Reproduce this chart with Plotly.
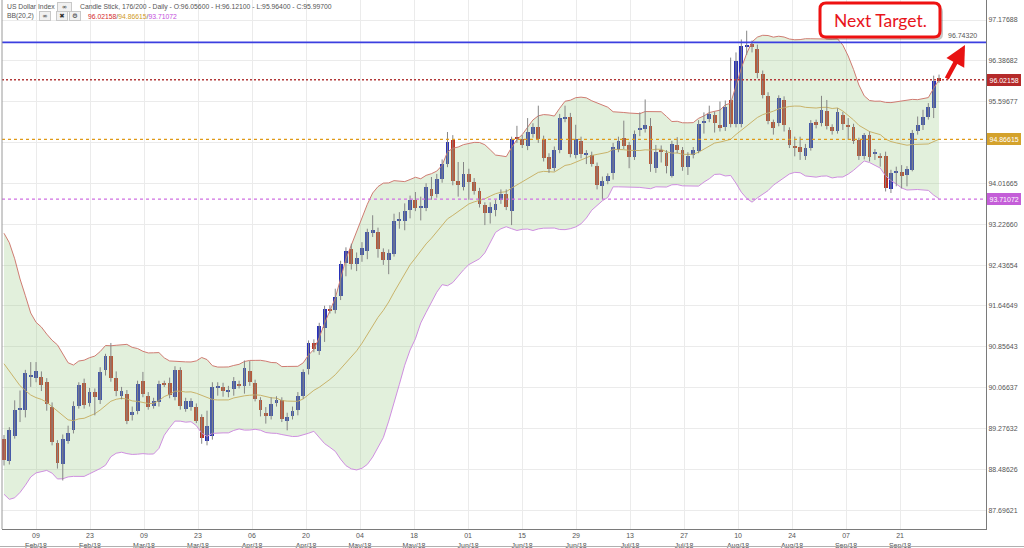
import plotly.graph_objects as go
import pandas as pd

# ---------------- data ----------------
# closes before the first visible candle, only used to warm up the 20-bar Bollinger window
jan_closes = [92.05, 92.45, 92.55, 92.20, 92.05, 91.38, 90.80, 90.86, 90.72, 90.62,
              90.70, 90.63, 90.05, 89.40, 89.52, 89.00, 89.10, 88.95, 88.85]

opens = [89.07, 88.65, 89.14, 89.64, 89.64, 90.28, 90.25, 90.27, 90.17, 89.69,
         88.99, 88.58, 89.04, 89.24, 89.72, 90.16, 89.77, 89.98, 89.82, 90.41,
         90.67, 90.25, 89.91, 89.95, 89.53, 89.62, 90.20, 89.91, 89.72, 89.78,
         90.15, 90.15, 89.88, 90.41, 89.66, 89.69, 89.69, 89.49, 89.03, 89.14,
         90.06, 90.08, 90.00, 90.04, 90.13, 90.09, 90.39, 90.16, 89.83, 89.57,
         89.51, 89.77, 89.82, 89.42, 89.51, 89.64, 89.91, 90.42, 90.93, 90.77,
         91.22, 91.58, 91.57, 91.83, 92.48, 92.74, 92.45, 92.64, 92.71, 93.06,
         93.08, 92.69, 92.53, 92.66, 93.29, 93.29, 93.50, 93.70, 93.55, 93.55,
         93.90, 93.82, 94.10, 94.40, 94.85, 94.07, 93.95, 94.19, 94.05, 93.87,
         93.59, 93.45, 93.50, 93.70, 93.82, 93.49, 94.91, 94.87, 94.74, 94.97,
         95.10, 94.87, 94.53, 94.31, 94.67, 95.27, 95.30, 94.56, 94.84, 94.57,
         94.57, 94.36, 93.97, 94.07, 94.22, 94.69, 94.89, 94.76, 94.53, 95.05,
         95.07, 95.13, 94.31, 94.66, 94.60, 94.16, 94.76, 94.66, 94.34, 94.56,
         94.65, 95.18, 95.26, 95.34, 95.15, 95.10, 95.63, 95.17, 95.17, 96.67,
         96.72, 96.61, 96.14, 95.71, 95.20, 95.18, 95.63, 95.04, 94.74, 94.72,
         94.55, 94.71, 95.20, 95.18, 95.41, 95.10, 95.03, 95.34, 95.15, 95.10,
         94.85, 94.55, 94.96, 94.60, 94.54, 94.54, 93.90, 94.23, 94.23, 94.18,
         94.28, 95.03, 95.14, 95.30, 95.47, 96.056]

highs = [89.15, 89.30, 89.82, 90.01, 90.41, 90.56, 90.56, 90.38, 90.25, 89.78,
         89.05, 89.16, 89.33, 89.80, 90.17, 90.24, 90.06, 90.05, 90.46, 90.72,
         90.93, 90.38, 90.08, 90.02, 89.70, 90.20, 90.37, 89.98, 89.87, 90.20,
         90.20, 90.26, 90.48, 90.46, 89.87, 89.86, 89.76, 89.55, 89.62, 90.17,
         90.17, 90.16, 90.10, 90.27, 90.20, 90.59, 90.58, 90.22, 89.88, 89.69,
         89.88, 89.90, 89.88, 89.58, 89.70, 89.98, 90.42, 90.98, 91.00, 91.32,
         91.65, 91.66, 91.98, 92.52, 92.78, 92.85, 92.68, 92.88, 93.14, 93.40,
         93.16, 92.76, 92.74, 93.43, 93.46, 93.63, 93.78, 93.85, 93.76, 94.02,
         94.14, 94.20, 94.48, 95.01, 94.95, 94.43, 94.43, 94.30, 94.12, 93.93,
         93.65, 93.65, 93.70, 93.90, 93.90, 94.92, 95.13, 94.95, 95.28, 95.18,
         95.52, 94.94, 94.60, 94.73, 95.36, 95.52, 95.38, 95.15, 94.92, 94.66,
         94.63, 94.42, 94.15, 94.21, 94.80, 94.92, 95.23, 94.82, 95.04, 95.39,
         95.64, 95.28, 94.76, 94.75, 94.66, 94.84, 94.91, 94.72, 94.62, 94.72,
         95.24, 95.39, 95.52, 95.40, 95.60, 95.62, 96.45, 96.55, 96.80, 96.97,
         96.78, 96.70, 96.20, 95.78, 95.25, 95.72, 95.70, 95.10, 94.92, 94.92,
         94.78, 95.24, 95.25, 95.71, 95.63, 95.16, 95.47, 95.40, 95.28, 95.17,
         94.90, 94.99, 95.02, 94.68, 94.60, 94.63, 94.28, 94.34, 94.37, 94.35,
         95.05, 95.31, 95.44, 95.57, 96.10, 96.121]

lows = [88.56, 88.58, 89.08, 89.40, 89.49, 90.08, 90.17, 90.00, 89.62, 88.95,
        88.50, 88.27, 88.98, 89.18, 89.66, 89.66, 89.70, 89.53, 89.75, 90.30,
        90.18, 89.90, 89.84, 89.36, 89.43, 89.55, 89.88, 89.64, 89.66, 89.70,
        90.08, 89.86, 89.82, 89.64, 89.60, 89.62, 89.38, 88.98, 88.95, 89.06,
        89.91, 89.89, 89.88, 89.91, 90.05, 89.95, 90.10, 89.80, 89.51, 89.37,
        89.45, 89.70, 89.40, 89.24, 89.45, 89.53, 89.85, 90.32, 90.75, 90.70,
        90.95, 91.50, 91.50, 91.76, 92.22, 92.35, 92.32, 92.50, 92.55, 92.98,
        92.58, 92.44, 92.26, 92.60, 93.14, 93.11, 93.34, 93.48, 93.30, 93.48,
        93.70, 93.74, 94.03, 94.33, 93.98, 93.76, 93.88, 93.70, 93.80, 93.55,
        93.21, 93.24, 93.38, 93.62, 93.50, 93.21, 94.80, 94.70, 94.66, 94.90,
        94.80, 94.44, 94.22, 94.25, 94.60, 95.20, 94.52, 94.50, 94.50, 94.39,
        94.34, 93.90, 93.71, 94.00, 94.09, 94.62, 94.68, 94.31, 94.47, 94.93,
        95.00, 94.24, 94.22, 94.42, 94.21, 94.13, 94.60, 94.26, 94.18, 94.50,
        94.60, 94.98, 95.20, 95.00, 95.02, 95.03, 95.10, 95.10, 95.10, 96.50,
        96.55, 96.05, 95.66, 95.16, 94.96, 95.12, 95.02, 94.70, 94.54, 94.47,
        94.47, 94.65, 95.08, 95.12, 95.06, 94.96, 94.98, 95.05, 94.86, 94.78,
        94.47, 94.48, 94.44, 94.47, 94.34, 93.86, 93.83, 93.96, 93.92, 93.96,
        94.25, 94.96, 95.05, 95.25, 95.28, 95.964]

closes = [88.67, 89.24, 89.64, 89.68, 90.35, 90.30, 90.38, 90.11, 89.75, 89.01,
          88.60, 89.07, 89.19, 89.72, 90.12, 89.73, 89.98, 89.88, 90.37, 90.67,
          90.26, 90.01, 90.00, 89.43, 89.60, 90.13, 89.95, 89.70, 89.80, 90.13,
          90.13, 89.93, 90.41, 89.71, 89.80, 89.80, 89.43, 89.09, 89.33, 90.08,
          90.09, 90.01, 90.02, 90.19, 90.11, 90.45, 90.17, 89.85, 89.64, 89.52,
          89.75, 89.83, 89.45, 89.50, 89.61, 89.90, 90.37, 90.93, 90.81, 91.26,
          91.58, 91.56, 91.82, 92.45, 92.71, 92.45, 92.58, 92.77, 93.08, 93.12,
          92.74, 92.53, 92.67, 93.28, 93.32, 93.48, 93.70, 93.55, 93.58, 93.95,
          93.77, 94.11, 94.40, 94.81, 94.07, 93.98, 94.19, 94.05, 93.87, 93.61,
          93.45, 93.56, 93.61, 93.82, 93.56, 94.87, 94.87, 94.76, 95.02, 95.11,
          94.87, 94.50, 94.29, 94.66, 95.29, 95.31, 94.58, 94.87, 94.58, 94.60,
          94.39, 93.99, 94.07, 94.16, 94.73, 94.84, 94.74, 94.52, 94.97, 95.08,
          95.15, 94.39, 94.63, 94.62, 94.35, 94.77, 94.66, 94.34, 94.55, 94.66,
          95.17, 95.23, 95.36, 95.18, 95.08, 95.50, 95.17, 96.38, 96.67, 96.70,
          96.65, 96.15, 95.73, 95.23, 95.09, 95.67, 95.15, 94.76, 94.72, 94.62,
          94.71, 95.18, 95.14, 95.43, 95.12, 95.03, 95.39, 95.17, 95.12, 94.83,
          94.55, 94.96, 94.52, 94.61, 94.52, 93.92, 94.21, 94.25, 94.15, 94.29,
          94.99, 95.14, 95.31, 95.50, 95.99, 95.997]

date_labels = ["09<br>Feb/18", "23<br>Feb/18", "09<br>Mar/18", "23<br>Mar/18",
               "06<br>Apr/18", "20<br>Apr/18", "04<br>May/18", "18<br>May/18",
               "01<br>Jun/18", "15<br>Jun/18", "29<br>Jun/18", "13<br>Jul/18",
               "27<br>Jul/18", "10<br>Aug/18", "24<br>Aug/18", "07<br>Sep/18",
               "21<br>Sep/18"]

price_ticks = [87.69621, 88.48626, 89.27632, 90.06637, 90.85643, 91.64649, 92.43654,
               93.22660, 94.01665, 94.80671, 95.59677, 96.38682, 97.17688]

bb_last = [96.02158, 94.86615, 93.71072]   # upper / middle / lower of the last bar
target_level = 96.74320
ohlc_last = [96.05600, 96.12100, 95.96400, 95.99700]

# ---------------- geometry ----------------
W, H = 1024, 548
ML, MR, MT, MB = 2, 38, 0, 19
PW, PH = W - ML - MR, H - MT - MB
X0PX, DXPX = 4.0, 5.343          # pixel of first candle, pixels per candle
YREF_V, YREF_PX, PXU = 97.17688, 20.0, 51.7


def px_x(px):
    return (px - ML) / PW


def px_y(py):
    return (H - MB - py) / PH


x_range = [(ML - X0PX) / DXPX, (ML + PW - X0PX) / DXPX]
y_range = [YREF_V - (PH - YREF_PX) / PXU, YREF_V + YREF_PX / PXU]

n = len(closes)
idx = list(range(n))

# Bollinger bands (20, 2)
ser = pd.Series(jan_closes + closes)
mid = ser.rolling(20).mean().iloc[-n:].tolist()
sd = ser.rolling(20).std(ddof=0).iloc[-n:].tolist()
upper = [m + 2 * s for m, s in zip(mid, sd)]
lower = [m - 2 * s for m, s in zip(mid, sd)]

BLUE, RED = "#2830b8", "#c2301f"

fig = go.Figure()

fig.add_trace(go.Scatter(x=idx, y=lower, mode="lines",
                         line=dict(color="#cf8fe0", width=1), hoverinfo="skip"))
fig.add_trace(go.Scatter(x=idx, y=upper, mode="lines", fill="tonexty",
                         fillcolor="rgba(150,200,130,0.28)",
                         line=dict(color="#cf7c72", width=1), hoverinfo="skip"))
fig.add_trace(go.Scatter(x=idx, y=mid, mode="lines",
                         line=dict(color="#c9b36a", width=1), hoverinfo="skip"))

# wicks
wx, wy = [], []
for i in idx:
    wx += [i, i, None]
    wy += [lows[i], highs[i], None]
fig.add_trace(go.Scatter(x=wx, y=wy, mode="lines",
                         line=dict(color="#858585", width=1), hoverinfo="skip"))

# bodies
base = [min(o, c) for o, c in zip(opens, closes)]
hgt = [max(abs(c - o), 0.022) for o, c in zip(opens, closes)]
cols = [BLUE if c >= o else RED for o, c in zip(opens, closes)]
fig.add_trace(go.Bar(x=idx, y=hgt, base=base, width=0.72,
                     marker=dict(color=cols, line=dict(width=0)), hoverinfo="skip"))

shapes = []
# level lines
shapes.append(dict(type="line", xref="paper", x0=0, x1=1, yref="y",
                   y0=target_level, y1=target_level,
                   line=dict(color="#3b3fe0", width=1.6), layer="above"))
shapes.append(dict(type="line", xref="paper", x0=0, x1=1, yref="y",
                   y0=bb_last[0], y1=bb_last[0],
                   line=dict(color="#b33a3a", width=1.6, dash="2px,2px"), layer="above"))
shapes.append(dict(type="line", xref="paper", x0=0, x1=1, yref="y",
                   y0=bb_last[1], y1=bb_last[1],
                   line=dict(color="#e09a18", width=1.2, dash="3px,3px"), layer="above"))
shapes.append(dict(type="line", xref="paper", x0=0, x1=1, yref="y",
                   y0=bb_last[2], y1=bb_last[2],
                   line=dict(color="#d070e2", width=1.2, dash="3px,3px"), layer="above"))


def rounded(x0, y0, x1, y1, r):
    X = px_x
    Y = px_y
    return (f"M {X(x0 + r)},{Y(y0)} L {X(x1 - r)},{Y(y0)} Q {X(x1)},{Y(y0)} {X(x1)},{Y(y0 + r)} "
            f"L {X(x1)},{Y(y1 - r)} Q {X(x1)},{Y(y1)} {X(x1 - r)},{Y(y1)} "
            f"L {X(x0 + r)},{Y(y1)} Q {X(x0)},{Y(y1)} {X(x0)},{Y(y1 - r)} "
            f"L {X(x0)},{Y(y0 + r)} Q {X(x0)},{Y(y0)} {X(x0 + r)},{Y(y0)} Z")


# "Next Target." callout box (shadow + box)
shapes.append(dict(type="path", xref="paper", yref="paper", path=rounded(823, 6, 943, 40, 6),
                   fillcolor="rgba(0,0,0,0.22)", line=dict(width=0), layer="above"))
shapes.append(dict(type="path", xref="paper", yref="paper", path=rounded(820, 3, 940, 37, 6),
                   fillcolor="white", line=dict(color="#ee1111", width=3), layer="above"))

# left plot border and bottom frame line
shapes.append(dict(type="line", xref="paper", yref="paper", x0=0, x1=0, y0=0, y1=1,
                   line=dict(color="#9a9a9a", width=1)))
shapes.append(dict(type="line", xref="paper", yref="paper", x0=px_x(0), x1=px_x(1024),
                   y0=px_y(546.5), y1=px_y(546.5), line=dict(color="#b0b0b0", width=1)))

SMALL = "Liberation Sans, Arial, sans-serif"
ann = []
ann.append(dict(xref="paper", yref="paper", x=px_x(880), y=px_y(20.5), text="Next Target.",
                xanchor="center", yanchor="middle", showarrow=False,
                font=dict(family="Lato, Open Sans, sans-serif", size=17.5, color="#e8141c")))
# arrow to the target
ann.append(dict(xref="paper", yref="paper", x=px_x(965), y=px_y(45), ax=-19, ay=35,
                text="", showarrow=True, arrowhead=2, arrowsize=0.9, arrowwidth=4.5,
                arrowcolor="#e81212"))
ann.append(dict(xref="paper", yref="y", x=px_x(979), y=target_level, yshift=1,
                xanchor="right", yanchor="bottom", text=f"{target_level:.5f}",
                showarrow=False, font=dict(family=SMALL, size=7, color="#555")))

# value boxes on the right axis
for val, colr in zip(bb_last, ["#b52a2a", "#d4a22c", "#c45ed8"]):
    ann.append(dict(xref="paper", yref="y", x=px_x(987), y=val, xanchor="left",
                    yanchor="middle", text=f"{val:.5f}", showarrow=False,
                    bgcolor=colr, bordercolor=colr, borderpad=1.5,
                    font=dict(family=SMALL, size=7, color="white")))

# header
HDR = dict(family=SMALL, size=6.8, color="#555")
ann.append(dict(xref="paper", yref="paper", x=px_x(5), y=px_y(6.5), xanchor="left",
                yanchor="middle", text="US Dollar Index", showarrow=False, font=HDR))
o, h, l, c = ohlc_last
ann.append(dict(xref="paper", yref="paper", x=px_x(78), y=px_y(6.5), xanchor="left",
                yanchor="middle", showarrow=False, font=HDR,
                text=f"Candle Stick, {n}/200 - Daily - O:{o:.5f} - H:{h:.5f} - L:{l:.5f} - C:{c:.5f}"))
ann.append(dict(xref="paper", yref="paper", x=px_x(5), y=px_y(16.5), xanchor="left",
                yanchor="middle", text="BB(20,2)", showarrow=False, font=HDR))
ann.append(dict(xref="paper", yref="paper", x=px_x(86), y=px_y(16.5), xanchor="left",
                yanchor="middle", showarrow=False, font=HDR,
                text=(f"<span style='color:#d42a2a'>{bb_last[0]:.5f}</span>/"
                      f"<span style='color:#cf9a1e'>{bb_last[1]:.5f}</span>/"
                      f"<span style='color:#c44ddd'>{bb_last[2]:.5f}</span>")))
for cx, cy, bw, sym in [(64.5, 6.5, 13, "∞"), (45, 16.5, 10, "∞"), (62, 16.5, 10, "✖"),
                        (75, 16.5, 10, "⚙")]:
    ann.append(dict(xref="paper", yref="paper", x=px_x(cx), y=px_y(cy), text=sym,
                    xanchor="center", yanchor="middle",
                    showarrow=False, width=bw, height=8, bgcolor="#f1f1f1",
                    bordercolor="#c8c8c8", borderwidth=1, borderpad=0,
                    font=dict(family="DejaVu Sans", size=6.5, color="#333")))

tick_pos = [5.99 + 10.107 * k for k in range(len(date_labels))]
# the 94.80671 label sits under the middle-band value box in the reference
price_text = ["" if abs(v - bb_last[1]) < 0.1 else f"{v:.5f}" for v in price_ticks]

fig.update_layout(
    width=W, height=H,
    margin=dict(l=ML, r=MR, t=MT, b=MB, pad=0),
    paper_bgcolor="white", plot_bgcolor="white",
    showlegend=False, bargap=0, barmode="overlay",
    shapes=shapes, annotations=ann,
    xaxis=dict(range=x_range, tickmode="array", tickvals=tick_pos, ticktext=date_labels,
               showgrid=True, gridcolor="#ebebeb", gridwidth=1, zeroline=False,
               showline=True, linecolor="#7a7a7a", linewidth=1, ticks="",
               tickfont=dict(family=SMALL, size=7, color="#555"), automargin=False,
               fixedrange=True),
    yaxis=dict(range=y_range, side="right", tickmode="array", tickvals=price_ticks,
               ticktext=price_text,
               showgrid=True, gridcolor="#ebebeb", gridwidth=1, zeroline=False,
               showline=True, linecolor="#7a7a7a", linewidth=1, ticks="",
               tickfont=dict(family=SMALL, size=7, color="#555"), automargin=False,
               fixedrange=True),
)

fig.write_html("out.html", config={"displayModeBar": False})
